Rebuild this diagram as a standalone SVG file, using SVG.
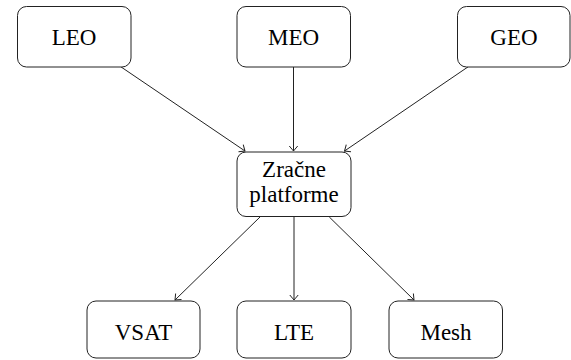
<svg xmlns="http://www.w3.org/2000/svg" width="571" height="360" viewBox="0 0 571 360">
<style>
.box{fill:#fff;stroke:#222;stroke-width:1}
.c{fill:none;stroke:#222;stroke-width:1}
</style>
<defs>
<marker id="arr" markerUnits="userSpaceOnUse" markerWidth="14" markerHeight="14" viewBox="-8 -7 10 14" refX="0" refY="0" orient="auto">
<path d="M-5,-4.2 Q-1.2,-1 0,0 Q-1.2,1 -5,4.2" fill="none" stroke="#222" stroke-width="1"/>
</marker>
</defs>
<rect width="571" height="360" fill="#fff"/>
<g id="connectors">
<line class="c" x1="120.7" y1="66.7" x2="245" y2="151" marker-end="url(#arr)"/>
<line class="c" x1="293.5" y1="66.7" x2="293.5" y2="151" marker-end="url(#arr)"/>
<line class="c" x1="468.3" y1="66.7" x2="344.5" y2="151" marker-end="url(#arr)"/>
<line class="c" x1="260" y1="217" x2="175" y2="300" marker-end="url(#arr)"/>
<line class="c" x1="294" y1="217" x2="294" y2="300" marker-end="url(#arr)"/>
<line class="c" x1="329.3" y1="217" x2="414" y2="300" marker-end="url(#arr)"/>
</g>
<g id="LEO"><rect class="box" x="17.5" y="6.5" width="113.5" height="60.5" rx="9"/><text x="74" y="45" font-family="Liberation Serif" font-size="23" text-anchor="middle">LEO</text></g>
<g id="MEO"><rect class="box" x="237" y="6.5" width="113.5" height="60.5" rx="9"/><text x="293.5" y="45" font-family="Liberation Serif" font-size="23" text-anchor="middle">MEO</text></g>
<g id="GEO"><rect class="box" x="457.5" y="6.5" width="112.5" height="60.5" rx="9"/><text x="514" y="45" font-family="Liberation Serif" font-size="23" text-anchor="middle">GEO</text></g>
<g id="Zracne"><rect class="box" x="237" y="152" width="114" height="64.5" rx="9"/><text x="294" y="176.5" font-family="Liberation Serif" font-size="23" text-anchor="middle">Zračne</text><text x="294" y="201.5" font-family="Liberation Serif" font-size="23" text-anchor="middle">platforme</text></g>
<g id="VSAT"><rect class="box" x="87" y="301" width="113" height="57" rx="9"/><text x="143.5" y="340" font-family="Liberation Serif" font-size="23" text-anchor="middle">VSAT</text></g>
<g id="LTE"><rect class="box" x="237" y="301" width="114" height="57" rx="9"/><text x="294" y="340" font-family="Liberation Serif" font-size="23" text-anchor="middle">LTE</text></g>
<g id="Mesh"><rect class="box" x="389" y="301" width="113.5" height="57" rx="9"/><text x="446" y="340" font-family="Liberation Serif" font-size="23" text-anchor="middle">Mesh</text></g>
</svg>
